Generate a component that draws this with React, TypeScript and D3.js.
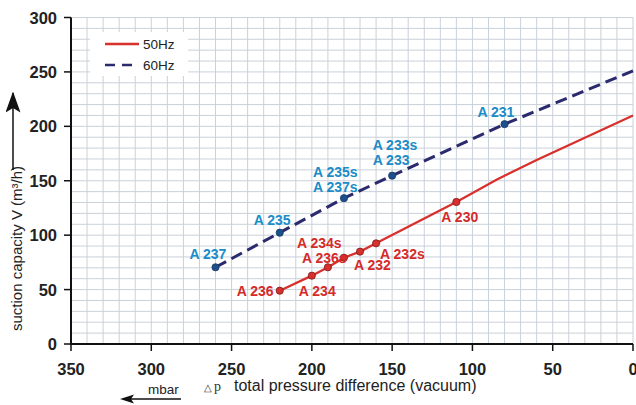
import React from "react";
import * as d3 from "d3";

// ---------- data ----------
const xTicks = [350, 300, 250, 200, 150, 100, 50, 0];
const yTicks = [0, 50, 100, 150, 200, 250, 300];

// 50 Hz curve (pressure difference mbar, capacity m³/h)
const curve50P = [220, 200, 190, 180, 170, 160, 110, 85, 60, 0];
const curve50V = [49, 62.8, 70.5, 79.3, 84.9, 92.5, 130.5, 151, 169, 210];
// 60 Hz curve
const curve60P = [260, 220, 180, 150, 80, 0];
const curve60V = [70.5, 102.3, 134, 154.7, 202, 251];

// pump model points
const dots50P = [220, 200, 190, 180, 170, 160, 110];
const dots60P = [260, 220, 180, 150, 80];

const labels50 = ["A 236", "A 234", "A 236s", "A 234s", "A 232", "A 232s", "A 230"];
const labels50P = [220, 200, 190, 180, 170, 160, 110];
const labels60 = ["A 237", "A 235", "A 235s", "A 237s", "A 233s", "A 233", "A 231"];
const labels60P = [260, 220, 180, 180, 150, 150, 80];

// label offsets from their point (pixels)
const off50 = [[-43, 5], [-13, 20], [-26, -4], [-47, -9.5], [-6, 18.5], [4, 15.5], [-15, 20]];
const off60 = [[-26, -8.5], [-26, -8], [-31, -21.5], [-31, -6.5], [-19.5, -25.5], [-19.5, -10.5], [-27, -7]];

const legendNames = ["50Hz", "60Hz"];

// ---------- style ----------
const W = 636, H = 405;
const RED = "#d8302c";
const NAVY = "#2c2a6e";
const LBLUE = "#1a8cc8";
const LRED = "#d42a2a";
const GRID = "#c9d1d9";
const FONT = "'Liberation Sans', Arial, sans-serif";

export default function App() {
  const x = d3.scaleLinear().domain([350, 0]).range([71, 633]);
  const y = d3.scaleLinear().domain([0, 300]).range([344, 17.5]);

  const gridX = d3.range(350, -1, -10);
  const gridY = d3.range(0, 301, 10);

  const interp = (ps: number[], vs: number[], p: number) => {
    const pts = ps.map((pp, i) => [pp, vs[i]]).sort((a, b) => a[0] - b[0]);
    for (let i = 0; i < pts.length - 1; i++) {
      if (p >= pts[i][0] && p <= pts[i + 1][0]) {
        const t = (p - pts[i][0]) / (pts[i + 1][0] - pts[i][0]);
        return pts[i][1] + t * (pts[i + 1][1] - pts[i][1]);
      }
    }
    return pts[0][1];
  };

  const line = d3
    .line<number>()
    .x((d) => x(d[0]))
    .y((d) => y(d[1]));

  const path50 = line(curve50P.map((p, i) => [p, curve50V[i]]) as any) || "";
  const path60 = line(curve60P.map((p, i) => [p, curve60V[i]]) as any) || "";

  return (
    <svg
      width={W}
      height={H}
      style={{ position: "absolute", left: 0, top: 0, background: "#fff" }}
      fontFamily={FONT}
    >
      <defs>
        <marker id="arrUp" markerWidth="10" markerHeight="14" refX="5" refY="1" orient="0">
          <path d="M0,14 L5,0 L10,14 L5,11 Z" fill="#111" />
        </marker>
      </defs>
      {/* grid */}
      <g>
        {gridX.map((g) => (
          <line key={"gx" + g} x1={x(g)} x2={x(g)} y1={y(0)} y2={y(300)} stroke={GRID} strokeWidth={1} />
        ))}
        {gridY.map((g) => (
          <line key={"gy" + g} x1={x(350)} x2={x(0)} y1={y(g)} y2={y(g)} stroke={GRID} strokeWidth={1} />
        ))}
      </g>

      {/* axes */}
      <line x1={x(350)} x2={x(350)} y1={y(0) + 1} y2={y(300)} stroke="#111" strokeWidth={2} />
      <line x1={x(350) - 1} x2={x(0)} y1={y(0)} y2={y(0)} stroke="#111" strokeWidth={2} />
      {yTicks.map((t) => (
        <g key={"yt" + t}>
          <line x1={x(350) - 7} x2={x(350)} y1={y(t)} y2={y(t)} stroke="#111" strokeWidth={1.5} />
          <text x={57} y={y(t) + 6} textAnchor="end" fontSize={16.5} fontWeight="bold" fill="#222">
            {t}
          </text>
        </g>
      ))}
      {xTicks.map((t) => (
        <g key={"xt" + t}>
          <line x1={x(t)} x2={x(t)} y1={y(0)} y2={y(0) + 7} stroke="#111" strokeWidth={1.5} />
          <text x={x(t)} y={375} textAnchor="middle" fontSize={16.5} fontWeight="bold" fill="#222">
            {t}
          </text>
        </g>
      ))}

      {/* curves */}
      <path d={path50} fill="none" stroke={RED} strokeWidth={2.3} />
      <path d={path60} fill="none" stroke={NAVY} strokeWidth={3} strokeDasharray="12 6" />

      {/* dots */}
      {dots60P.map((p) => (
        <circle key={"d60" + p} cx={x(p)} cy={y(interp(curve60P, curve60V, p))} r={3.6} fill="#1d4f8c" stroke="#163a66" strokeWidth={0.8} />
      ))}
      {dots50P.map((p) => (
        <circle key={"d50" + p} cx={x(p)} cy={y(interp(curve50P, curve50V, p))} r={3.6} fill={RED} stroke="#7a1a1a" strokeWidth={0.8} />
      ))}

      {/* labels */}
      {labels60.map((l, i) => {
        const p = labels60P[i];
        return (
          <text key={"l60" + i} x={x(p) + off60[i][0]} y={y(interp(curve60P, curve60V, p)) + off60[i][1]} fontSize={14} fontWeight="bold" fill={LBLUE}>
            {l}
          </text>
        );
      })}
      {labels50.map((l, i) => {
        const p = labels50P[i];
        return (
          <text key={"l50" + i} x={x(p) + off50[i][0]} y={y(interp(curve50P, curve50V, p)) + off50[i][1]} fontSize={14} fontWeight="bold" fill={LRED}>
            {l}
          </text>
        );
      })}

      {/* legend */}
      <rect x={90} y={32} width={98} height={44} fill="#fff" />
      <line x1={105} x2={139} y1={44} y2={44} stroke={RED} strokeWidth={2.3} />
      <text x={143} y={49} fontSize={13.5} fill="#222">{legendNames[0]}</text>
      <line x1={105} x2={139} y1={65} y2={65} stroke={NAVY} strokeWidth={2.5} strokeDasharray="10 7" />
      <text x={143} y={70} fontSize={13.5} fill="#222">{legendNames[1]}</text>

      {/* y axis title */}
      <text transform="translate(22,331) rotate(-90)" fontSize={15} fill="#222">
        suction capacity V (m³/h)
      </text>
      <line x1={13} x2={13} y1={170} y2={93} stroke="#111" strokeWidth={1.5} markerEnd="url(#arrUp)" />

      {/* x axis title */}
      <text x={148} y={394} fontSize={13.5} fill="#222">mbar</text>
      <line x1={181} x2={128} y1={399} y2={399} stroke="#111" strokeWidth={1.5} />
      <path d="M120,399 L134,394.5 L131,399 L134,403.5 Z" fill="#111" />
      <text x={204} y={391} fontSize={10} fill="#333">△</text>
      <text x={214} y={391} fontSize={14} fill="#333" fontFamily="'Liberation Serif', serif">p</text>
      <text x={234} y={391} fontSize={16} fill="#222">total pressure difference (vacuum)</text>
    </svg>
  );
}
